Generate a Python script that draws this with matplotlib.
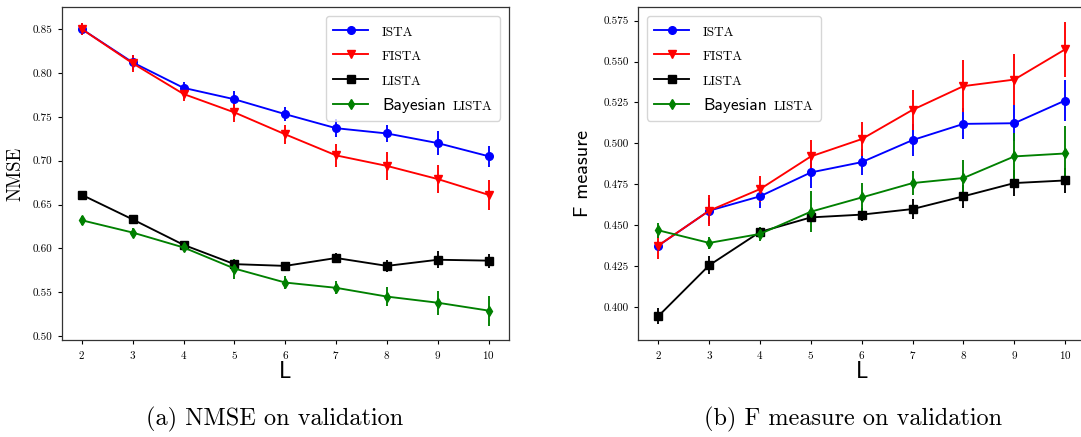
import matplotlib
matplotlib.use("Agg")
import matplotlib.pyplot as plt
from matplotlib.ticker import FormatStrFormatter, MultipleLocator
from matplotlib.offsetbox import HPacker, TextArea

plt.rcParams["font.family"] = "cmr10"
plt.rcParams["axes.formatter.use_mathtext"] = True

# Number of layers
layers = [2, 3, 4, 5, 6, 7, 8, 9, 10]

# NMSE on validation (mean and std)
nmse_ista = [0.850, 0.812, 0.783, 0.770, 0.753, 0.737, 0.731, 0.720, 0.705]
nmse_ista_err = [0.007, 0.009, 0.007, 0.0095, 0.008, 0.010, 0.010, 0.014, 0.012]
nmse_fista = [0.850, 0.811, 0.776, 0.755, 0.730, 0.706, 0.694, 0.679, 0.661]
nmse_fista_err = [0.007, 0.010, 0.0076, 0.011, 0.0105, 0.0127, 0.0158, 0.016, 0.017]
nmse_lista = [0.661, 0.633, 0.604, 0.582, 0.580, 0.589, 0.580, 0.587, 0.586]
nmse_lista_err = [0.003, 0.004, 0.003, 0.005, 0.0035, 0.0057, 0.0067, 0.0095, 0.008]
nmse_blista = [0.632, 0.618, 0.601, 0.577, 0.561, 0.555, 0.545, 0.538, 0.529]
nmse_blista_err = [0.005, 0.0048, 0.004, 0.0114, 0.0076, 0.0074, 0.0107, 0.0137, 0.017]

# F measure on validation (mean and std)
f_ista = [0.4374, 0.4588, 0.4676, 0.4822, 0.4885, 0.502, 0.5119, 0.5123, 0.5262]
f_ista_err = [0.003, 0.008, 0.007, 0.0095, 0.008, 0.010, 0.0095, 0.011, 0.0127]
f_fista = [0.4375, 0.4588, 0.472, 0.492, 0.5026, 0.5205, 0.535, 0.539, 0.5575]
f_fista_err = [0.008, 0.0096, 0.008, 0.010, 0.0104, 0.0124, 0.0158, 0.0158, 0.0168]
f_lista = [0.3943, 0.4254, 0.4458, 0.4547, 0.4564, 0.4598, 0.4676, 0.4757, 0.4773]
f_lista_err = [0.005, 0.0054, 0.0033, 0.0025, 0.004, 0.0063, 0.0071, 0.0081, 0.0076]
f_blista = [0.4468, 0.4391, 0.4446, 0.4582, 0.4669, 0.4757, 0.4788, 0.492, 0.4938]
f_blista_err = [0.0046, 0.0037, 0.0044, 0.0127, 0.0086, 0.0074, 0.0112, 0.0142, 0.017]

method_names = ["ISTA", "FISTA", "LISTA", "Bayesian"]
method_colors = ["b", "r", "k", "g"]
method_markers = ["o", "v", "s", "d"]

W, H = 1081, 437
fig = plt.figure(figsize=(W / 100, H / 100), dpi=100)


def px_rect(x0, x1, y0, y1):
    return [x0 / W, 1 - y1 / H, (x1 - x0) / W, (y1 - y0) / H]


ax1 = fig.add_axes(px_rect(61.5, 509, 7, 340))
ax2 = fig.add_axes(px_rect(638, 1085.5, 7, 340))

panels = [
    (ax1, [nmse_ista, nmse_fista, nmse_lista, nmse_blista],
     [nmse_ista_err, nmse_fista_err, nmse_lista_err, nmse_blista_err]),
    (ax2, [f_ista, f_fista, f_lista, f_blista],
     [f_ista_err, f_fista_err, f_lista_err, f_blista_err]),
]

legend_lines = {}
for ax, means, errs in panels:
    lines = []
    for name, c, m, y, e in zip(method_names, method_colors, method_markers, means, errs):
        cont = ax.errorbar(layers, y, yerr=e, color=c, marker=m, ms=5.5, lw=1.35,
                           elinewidth=1.35, capsize=0, label=name)
        lines.append(cont[0])
    legend_lines[ax] = lines
    ax.set_xlim(1.6, 10.4)
    ax.xaxis.set_major_locator(MultipleLocator(1))
    ax.tick_params(labelsize=8, length=3.2, width=0.8)
    for sp in ax.spines.values():
        sp.set_linewidth(0.9)
        sp.set_color("#333333")

ax1.set_ylim(0.4955, 0.8752)
ax1.yaxis.set_major_locator(MultipleLocator(0.05))
ax1.yaxis.set_major_formatter(FormatStrFormatter("%.2f"))
ax2.set_ylim(0.3797, 0.5834)
ax2.yaxis.set_major_locator(MultipleLocator(0.025))
ax2.yaxis.set_major_formatter(FormatStrFormatter("%.3f"))

# Axis labels
ax1.set_ylabel("NMSE", fontsize=13.5, family="cmr10")
ax2.set_ylabel("F measure", fontsize=14.5, family="cmss10")
for ax, xc in ((ax1, 15.5), (ax2, 583)):
    lab = ax.yaxis.label
    lab.set_verticalalignment("center")
    x0 = ax.get_position().x0 * W
    ax.yaxis.set_label_coords((xc - x0) / ax.get_position().width / W, 0.5)
    ax.set_xlabel("L", fontsize=16.5, family="cmss10")
    ax.xaxis.label.set_verticalalignment("center")
    ax.xaxis.set_label_coords(0.5, -32 / 333)


def build_legend(ax, loc):
    leg = ax.legend(legend_lines[ax], method_names, loc=loc,
                    prop={"family": "cmss10", "size": 12.5},
                    handlelength=2.0, handletextpad=0.8, labelspacing=0.55,
                    borderpad=0.45, borderaxespad=0.5)
    texts = leg.get_texts()
    for t in texts[:3]:
        t.set_family("cmr10")
        t.set_fontsize(9.5)
    # append small-caps style "LISTA" after "Bayesian"
    target = texts[3]

    def walk(box):
        for ch in box.get_children():
            if hasattr(ch, "get_children"):
                kids = ch.get_children()
                for i, k in enumerate(kids):
                    if isinstance(k, TextArea) and k._text is target:
                        extra = TextArea("LISTA", textprops=dict(family="cmr10", size=9.5))
                        kids[i] = HPacker(children=[k, extra], align="baseline", pad=0, sep=5)
                        kids[i].set_figure(fig)
                        return True
                if walk(ch):
                    return True
        return False

    walk(leg)
    return leg


build_legend(ax1, "upper right")
build_legend(ax2, "upper left")

# Sub-figure captions
fig.text(275 / W, 1 - 419 / H, "(a) NMSE on validation", ha="center", va="center",
         fontsize=17.5, family="cmr10")
fig.text(853 / W, 1 - 419 / H, "(b) F measure on validation", ha="center", va="center",
         fontsize=17.5, family="cmr10")

fig.savefig("out.png", dpi=100)
